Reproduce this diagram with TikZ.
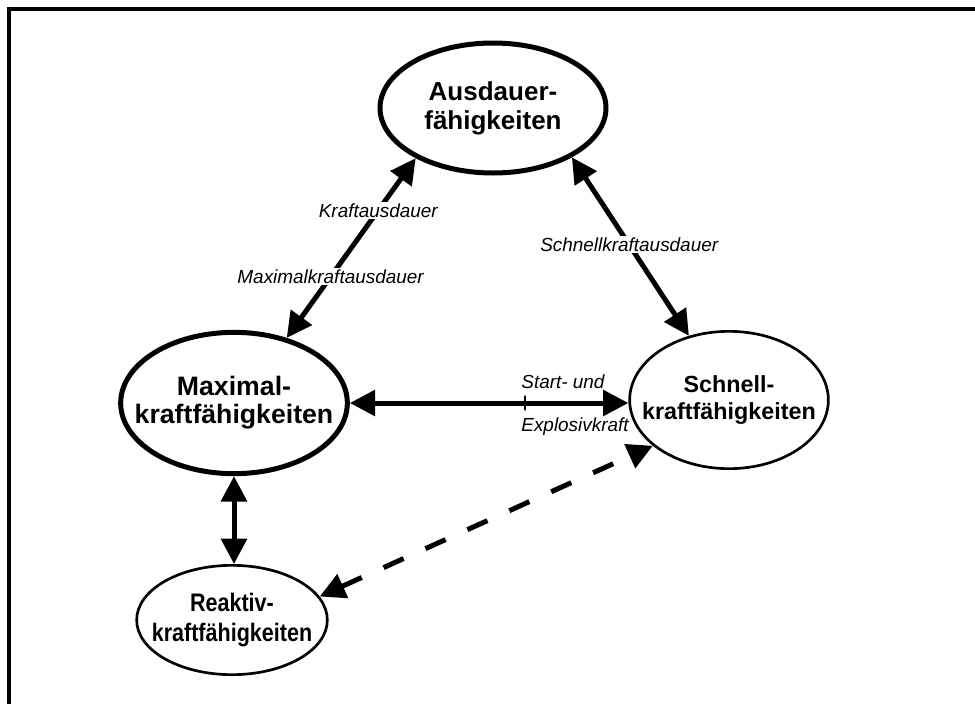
\documentclass[tikz,border=0pt]{standalone}
\usepackage{fontspec}
\setmainfont{Liberation Sans}
\newfontfamily\narrowsans{Liberation Sans}[FakeStretch=0.85]
\usetikzlibrary{shapes.geometric,arrows.meta}

\tikzset{
  ball/.style={ellipse, draw, align=center, inner xsep=-20pt, inner ysep=0pt},
  thickball/.style={ball, line width=3.75pt},
  thinball/.style={ball, line width=2pt},
  link/.style={line width=3.75pt, {Triangle[length=19pt,width=19pt]}-{Triangle[length=19pt,width=19pt]}},
  linklabel/.style={fill=white, inner sep=1pt, font=\itshape\fontsize{14.2}{16}\selectfont},
  sidelabel/.style={inner xsep=0pt, inner ysep=9pt, font=\itshape\fontsize{14.2}{16}\selectfont},
  tickmark/.style={draw, line width=1.8pt, minimum width=0pt, minimum height=11pt, inner sep=0pt}
}

\begin{document}
\begin{tikzpicture}[x=0.75pt,y=-0.75pt]
  \useasboundingbox (0,0) rectangle (975,704);
  \draw[line width=3.2pt] (9,704) -- (9,9) -- (975,9);

  \node (ausdauer) at (493,108)[thickball, minimum width=169.5pt, minimum height=97.5pt,
    font=\bfseries\fontsize{19.5}{22}\selectfont] {Ausdauer-\\fähigkeiten};
  \node (maximal) at (234,403)[thickball, minimum width=170pt, minimum height=106pt,
    font=\bfseries\fontsize{20}{21}\selectfont] {Maximal-\\kraftfähigkeiten};
  \node (schnell) at (729,400)[thinball, minimum width=149pt, minimum height=103pt,
    font=\bfseries\fontsize{17.5}{20}\selectfont] {Schnell-\\kraftfähigkeiten};
  \node (reaktiv) at (232,620)[thinball, minimum width=143pt, minimum height=82pt,
    font=\narrowsans\bfseries\fontsize{19}{22}\selectfont] {Reaktiv-\\kraftfähigkeiten};

  \draw[link] (ausdauer.213) -- (maximal.51)
    node[pos=0.29, linklabel] {Kraftausdauer}
    node[pos=0.66, linklabel] {Maximalkraftausdauer};
  \draw[link] (ausdauer.328) -- (schnell.122)
    node[pos=0.49, linklabel] {Schnellkraftausdauer};
  \draw[link] (maximal.east) -- (maximal.east -| schnell.west)
    node[pos=0.63, tickmark] {}
    node[pos=0.607, anchor=south west, sidelabel] {Start- und}
    node[pos=0.607, anchor=north west, sidelabel] {Explosivkraft};
  \draw[link] (maximal.south) -- (maximal.south |- reaktiv.north);
  \draw[link, dash pattern=on 16.5pt off 18pt] (reaktiv.15) -- (schnell.211);
\end{tikzpicture}
\end{document}
